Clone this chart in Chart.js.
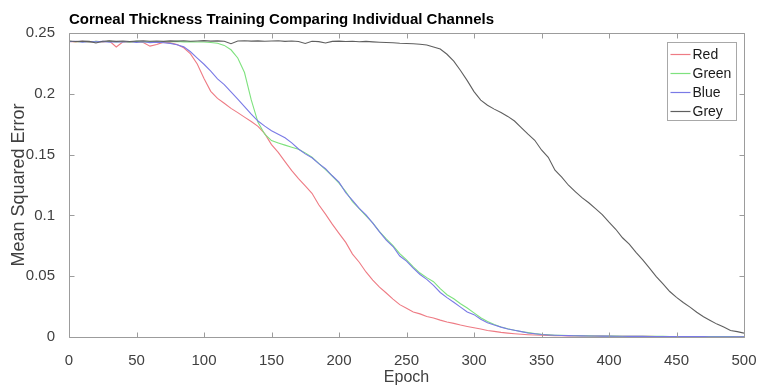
<!DOCTYPE html>
<html>
<head>
<meta charset="utf-8">
<script src="https://cdn.jsdelivr.net/npm/chart.js@4/dist/chart.umd.min.js"></script>
<style>
html,body{margin:0;padding:0;background:#fff;}
#wrap{width:759px;height:390px;position:relative;}
</style>
</head>
<body>
<div id="wrap"><canvas id="c" width="759" height="390"></canvas></div>
<script>
const titleText = 'Corneal Thickness Training Comparing Individual Channels';
const xTitle = 'Epoch';
const yTitle = 'Mean Squared Error';
const seriesNames = ['Red', 'Green', 'Blue', 'Grey'];

const xTicks = [0, 50, 100, 150, 200, 250, 300, 350, 400, 450, 500];
const xTickLabels = ['0', '50', '100', '150', '200', '250', '300', '350', '400', '450', '500'];
const yTicks = [0, 0.05, 0.1, 0.15, 0.2, 0.25];
const yTickLabels = ['0', '0.05', '0.1', '0.15', '0.2', '0.25'];

// epochs sampled every 5
const epochs = [
  0,5,10,15,20,25,30,35,40,45,50,55,60,65,70,75,80,85,90,95,
  100,105,110,115,120,125,130,135,140,145,150,155,160,165,170,175,180,185,190,195,
  200,205,210,215,220,225,230,235,240,245,250,255,260,265,270,275,280,285,290,295,
  300,305,310,315,320,325,330,335,340,345,350,355,360,365,370,375,380,385,390,395,
  400,405,410,415,420,425,430,435,440,445,450,455,460,465,470,475,480,485,490,495,500
];

const red = [
  0.2430,0.2427,0.2432,0.2424,0.2431,0.2426,0.2433,0.2385,0.2428,0.2425,
  0.2430,0.2422,0.2392,0.2405,0.2425,0.2419,0.2405,0.2378,0.2328,0.2245,
  0.2125,0.2020,0.1962,0.1922,0.1880,0.1845,0.1808,0.1772,0.1732,0.1672,
  0.1582,0.1518,0.1442,0.1368,0.1302,0.1243,0.1182,0.1088,0.1010,0.0928,
  0.0852,0.0778,0.0682,0.0615,0.0535,0.0468,0.0410,0.0362,0.0312,0.0266,
  0.0236,0.0206,0.0190,0.0168,0.0157,0.0139,0.0124,0.0112,0.0098,0.0087,
  0.0076,0.0066,0.0053,0.0046,0.0038,0.0032,0.0027,0.0023,0.0019,0.0016,
  0.0014,0.0013,0.0011,0.0010,0.0009,0.0009,0.0008,0.0008,0.0007,0.0007,
  0.0006,0.0006,0.0006,0.0005,0.0005,0.0005,0.0005,0.0004,0.0004,0.0004,
  0.0004,0.0004,0.0003,0.0003,0.0003,0.0003,0.0003,0.0003,0.0003,0.0002,0.0002
];

const green = [
  0.2432,0.2428,0.2430,0.2426,0.2431,0.2428,0.2432,0.2427,0.2430,0.2425,
  0.2431,0.2427,0.2429,0.2426,0.2430,0.2428,0.2431,0.2427,0.2429,0.2426,
  0.2426,0.2422,0.2416,0.2398,0.2362,0.2295,0.2175,0.1950,0.1765,0.1668,
  0.1615,0.1596,0.1578,0.1561,0.1544,0.1514,0.1478,0.1428,0.1376,0.1324,
  0.1266,0.1196,0.1114,0.1056,0.0996,0.0938,0.0866,0.0806,0.0752,0.0686,
  0.0634,0.0576,0.0526,0.0488,0.0455,0.0398,0.0348,0.0314,0.0274,0.0238,
  0.0198,0.0158,0.0128,0.0103,0.0083,0.0068,0.0055,0.0045,0.0036,0.0028,
  0.0022,0.0018,0.0015,0.0013,0.0012,0.0011,0.0010,0.0009,0.0008,0.0008,
  0.0007,0.0007,0.0006,0.0006,0.0006,0.0005,0.0005,0.0005,0.0005,0.0004,
  0.0004,0.0004,0.0004,0.0003,0.0003,0.0003,0.0003,0.0003,0.0003,0.0002,0.0002
];

const blue = [
  0.2428,0.2432,0.2425,0.2430,0.2427,0.2431,0.2424,0.2429,0.2426,0.2430,
  0.2423,0.2428,0.2421,0.2425,0.2420,0.2415,0.2404,0.2386,0.2346,0.2294,
  0.2243,0.2186,0.2122,0.2076,0.2016,0.1956,0.1894,0.1832,0.1776,0.1734,
  0.1696,0.1667,0.1638,0.1596,0.1546,0.1506,0.1474,0.1426,0.1384,0.1326,
  0.1274,0.1186,0.1124,0.1058,0.1004,0.0936,0.0864,0.0796,0.0744,0.0666,
  0.0624,0.0566,0.0514,0.0474,0.0424,0.0366,0.0324,0.0286,0.0246,0.0206,
  0.0184,0.0146,0.0118,0.0098,0.0081,0.0066,0.0055,0.0044,0.0033,0.0027,
  0.0021,0.0017,0.0014,0.0012,0.0011,0.0010,0.0009,0.0008,0.0008,0.0007,
  0.0007,0.0006,0.0006,0.0005,0.0005,0.0005,0.0004,0.0004,0.0004,0.0004,
  0.0003,0.0003,0.0003,0.0003,0.0003,0.0002,0.0002,0.0002,0.0002,0.0002,0.0002
];

const grey = [
  0.2434,0.2430,0.2433,0.2431,0.2418,0.2432,0.2435,0.2431,0.2434,0.2430,
  0.2433,0.2436,0.2432,0.2434,0.2431,0.2435,0.2433,0.2436,0.2432,0.2434,
  0.2437,0.2433,0.2435,0.2432,0.2412,0.2434,0.2436,0.2433,0.2435,0.2432,
  0.2434,0.2436,0.2431,0.2434,0.2430,0.2414,0.2432,0.2429,0.2418,0.2431,
  0.2433,0.2430,0.2432,0.2428,0.2431,0.2427,0.2424,0.2422,0.2420,0.2416,
  0.2414,0.2412,0.2408,0.2402,0.2385,0.2368,0.2325,0.2268,0.2192,0.2108,
  0.2018,0.1948,0.1906,0.1874,0.1846,0.1814,0.1776,0.1722,0.1668,0.1618,
  0.1538,0.1478,0.1372,0.1314,0.1248,0.1196,0.1146,0.1104,0.1056,0.1006,
  0.0944,0.0886,0.0816,0.0764,0.0696,0.0634,0.0566,0.0496,0.0436,0.0374,
  0.0326,0.0284,0.0246,0.0204,0.0166,0.0136,0.0106,0.0082,0.0054,0.0044,0.0032
];

const seriesValues = [red, green, blue, grey];
const seriesColors = ['#ee7b84', '#7ee27e', '#7a7ae6', '#5f5f5f'];
const drawOrder = [4, 3, 2, 1];

const AXIS_COLOR = '#9c9c9c';
const TEXT_COLOR = '#404040';
const FONT = "'Liberation Sans', Arial, Helvetica, sans-serif";

const boxTicksPlugin = {
  id: 'boxTicks',
  afterDatasetsDraw(chart) {
    const ctx = chart.ctx;
    const a = chart.chartArea;
    const xs = chart.scales.x, ys = chart.scales.y;
    const L = 5;
    ctx.save();
    ctx.strokeStyle = AXIS_COLOR;
    ctx.lineWidth = 1;
    ctx.beginPath();
    const l = Math.round(a.left) + 0.5, r = Math.round(a.right) + 0.5;
    const t = Math.round(a.top) + 0.5, b = Math.round(a.bottom) + 0.5;
    ctx.rect(l, t, r - l, b - t);
    xTicks.forEach(v => {
      const px = Math.round(xs.getPixelForValue(v)) + 0.5;
      ctx.moveTo(px, b); ctx.lineTo(px, b - L);
      ctx.moveTo(px, t); ctx.lineTo(px, t + L);
    });
    yTicks.forEach(v => {
      const py = Math.round(ys.getPixelForValue(v)) + 0.5;
      ctx.moveTo(l, py); ctx.lineTo(l + L, py);
      ctx.moveTo(r, py); ctx.lineTo(r - L, py);
    });
    ctx.stroke();
    ctx.restore();
  },
  afterDraw(chart) {
    const ctx = chart.ctx;
    const a = chart.chartArea;
    const bx = Math.round(a.right - 77) + 0.5;
    const by = Math.round(a.top + 9) + 0.5;
    const bw = 69, bh = 78;
    ctx.save();
    ctx.fillStyle = '#ffffff';
    ctx.fillRect(bx, by, bw, bh);
    ctx.strokeStyle = '#a8a8a8';
    ctx.lineWidth = 1;
    ctx.strokeRect(bx, by, bw, bh);
    ctx.font = '14px ' + FONT;
    ctx.textBaseline = 'middle';
    ctx.textAlign = 'left';
    chart.data.datasets.forEach((ds, i) => {
      const cy = Math.round(by + 11 + i * 19);
      ctx.lineWidth = 1.2;
      ctx.strokeStyle = seriesColors[i];
      ctx.beginPath();
      ctx.moveTo(bx + 3, cy + 0.5);
      ctx.lineTo(bx + 23, cy + 0.5);
      ctx.stroke();
      ctx.fillStyle = '#1a1a1a';
      ctx.fillText(ds.label, bx + 25, cy + 1);
    });
    ctx.restore();
  }
};

const datasets = seriesNames.map((name, i) => ({
  label: name,
  data: epochs.map((e, j) => ({ x: e, y: seriesValues[i][j] })),
  borderColor: seriesColors[i],
  backgroundColor: seriesColors[i],
  borderWidth: 1.1,
  pointRadius: 0,
  tension: 0,
  fill: false,
  order: drawOrder[i]
}));

new Chart(document.getElementById('c'), {
  type: 'line',
  data: { datasets },
  plugins: [boxTicksPlugin],
  options: {
    responsive: false,
    animation: false,
    devicePixelRatio: 1,
    layout: { padding: { left: 0, right: 15, top: 0, bottom: 0 } },
    plugins: {
      legend: { display: false },
      tooltip: { enabled: false },
      title: {
        display: true,
        text: titleText,
        align: 'start',
        fullSize: false,
        color: '#000000',
        font: { family: FONT, size: 15, weight: 'bold' },
        padding: { top: 11, bottom: 4 }
      }
    },
    scales: {
      x: {
        type: 'linear',
        min: 0, max: 500,
        grid: { display: false },
        border: { display: false },
        afterBuildTicks: s => { s.ticks = xTicks.map(v => ({ value: v })); },
        afterFit: s => { s.height = 53; s.paddingLeft = 0; s.paddingRight = 0; },
        ticks: {
          color: TEXT_COLOR,
          font: { family: FONT, size: 15 },
          padding: 7,
          maxRotation: 0,
          autoSkip: false,
          callback: (v, i) => xTickLabels[i]
        },
        title: {
          display: true, text: xTitle, color: TEXT_COLOR,
          font: { family: FONT, size: 16 },
          padding: { top: 0, bottom: 3 }
        }
      },
      y: {
        type: 'linear',
        min: 0, max: 0.25,
        grid: { display: false },
        border: { display: false },
        afterBuildTicks: s => { s.ticks = yTicks.map(v => ({ value: v })); },
        afterFit: s => { s.width = 69; },
        ticks: {
          color: TEXT_COLOR,
          font: { family: FONT, size: 15 },
          padding: 6,
          autoSkip: false,
          callback: (v, i) => yTickLabels[i]
        },
        title: {
          display: true, text: yTitle, color: TEXT_COLOR,
          font: { family: FONT, size: 18 },
          padding: { top: 8, bottom: 0 }
        }
      }
    }
  }
});
</script>
</body>
</html>
